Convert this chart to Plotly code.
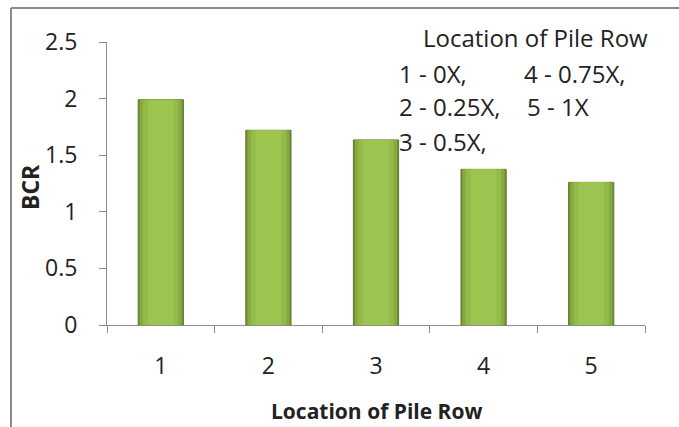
import plotly.graph_objects as go

# Bearing capacity ratio for each pile-row location
locations = ["1", "2", "3", "4", "5"]
bcr = [1.99, 1.72, 1.635, 1.375, 1.26]

y_ticks = [0, 0.5, 1, 1.5, 2, 2.5]
y_tick_text = ["0", "0.5", "1", "1.5", "2", "2.5"]

legend_title = "Location of Pile Row"
legend_rows = ["1 - 0X,", "2 - 0.25X,", "3 - 0.5X,"]
legend_rows_right = ["4 - 0.75X,", "5 - 1X"]

W, H = 679, 427
ML, MR, MT, MB = 107, 34, 42, 102
PW, PH = W - ML - MR, H - MT - MB

FONT = "'Open Sans', Lato, sans-serif"

def px(x):
    return (x - ML) / PW

def py(y):
    return 1 - (y - MT) / PH

fig = go.Figure()

# layered bars give the bevelled, shaded look of the columns
layers = [
    (0.42, "#6F8F33", "#5E7B2A", 1),
    (0.39, "#87AB40", "#87AB40", 0),
    (0.33, "#94BA49", "#94BA49", 0),
    (0.24, "#9DC44F", "#9DC44F", 0),
]
for width, color, line_color, lw in layers:
    fig.add_trace(go.Bar(
        x=locations, y=bcr, width=width,
        marker=dict(color=color, line=dict(color=line_color, width=lw)),
        hoverinfo="y", showlegend=False,
    ))

fig.update_layout(
    width=W, height=H,
    margin=dict(l=ML, r=MR, t=MT, b=MB),
    paper_bgcolor="white", plot_bgcolor="white",
    barmode="overlay",
    font=dict(family=FONT, size=23, color="#222"),
    xaxis=dict(
        type="category", tickson="boundaries",
        showline=True, linecolor="#8c8c8c", linewidth=1,
        ticks="outside", ticklen=7, tickcolor="#8c8c8c",
        showgrid=False, tickfont=dict(size=23), ticklabelstandoff=20,
    ),
    yaxis=dict(
        range=[0, 2.5], tickvals=y_ticks, ticktext=y_tick_text,
        showline=True, linecolor="#8c8c8c", linewidth=1,
        ticks="outside", ticklen=7, tickcolor="#8c8c8c",
        showgrid=False, zeroline=False, tickfont=dict(size=23),
        ticklabelstandoff=17,
    ),
)

# axis titles
fig.add_annotation(xref="paper", yref="paper", x=px(376), y=py(411),
                   xanchor="center", yanchor="middle", showarrow=False,
                   text="<b>Location of Pile Row</b>", font=dict(size=21))
fig.add_annotation(xref="paper", yref="paper", x=px(30), y=py(187),
                   xanchor="center", yanchor="middle", showarrow=False,
                   textangle=-90, text="<b>BCR</b>", font=dict(size=23))

# chart-area frame (top and left edges)
fig.add_shape(type="line", xref="paper", yref="paper",
              x0=px(11), x1=px(W + 5), y0=py(8), y1=py(8),
              line=dict(color="#8a8a8a", width=2))
fig.add_shape(type="line", xref="paper", yref="paper",
              x0=px(11), x1=px(11), y0=py(8), y1=py(H + 5),
              line=dict(color="#8a8a8a", width=2))

# key text in the upper-right corner
fig.add_annotation(xref="paper", yref="paper", x=px(421), y=py(37),
                   xanchor="left", yanchor="middle", showarrow=False,
                   text=legend_title, font=dict(size=24))
for i, t in enumerate(legend_rows):
    fig.add_annotation(xref="paper", yref="paper", x=px(397), y=py(73 + 34 * i),
                       xanchor="left", yanchor="middle", showarrow=False,
                       text=t, font=dict(size=24))
for i, t in enumerate(legend_rows_right):
    fig.add_annotation(xref="paper", yref="paper", x=px(522 + 3 * i), y=py(73 + 34 * i),
                       xanchor="left", yanchor="middle", showarrow=False,
                       text=t, font=dict(size=24))

fig.write_html("out.html")
